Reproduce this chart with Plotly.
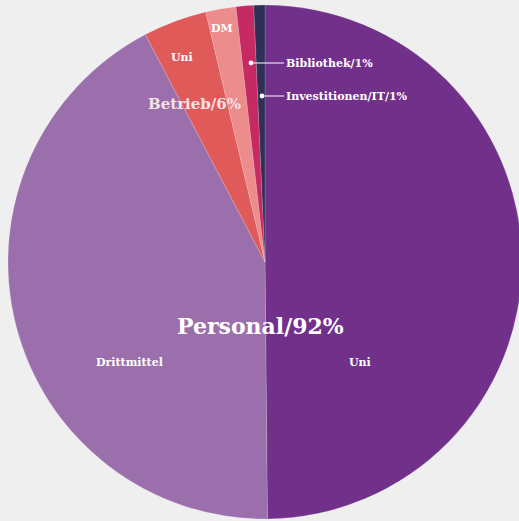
import plotly.graph_objects as go

labels = ["Personal Uni", "Personal Drittmittel", "Betrieb Uni", "Betrieb DM",
          "Bibliothek", "Investitionen/IT"]
values = [49.8, 42.4, 4.0, 1.9, 1.1, 0.7]
colors = ["#71318a", "#9b6fab", "#e05a5a", "#ec8c8c", "#c52a63", "#2f2f58"]

W, H = 526, 521
fig = go.Figure(go.Pie(
    labels=labels, values=values, sort=False, direction="clockwise", rotation=0,
    marker=dict(colors=colors, line=dict(color="rgba(255,255,255,0.25)", width=0.6)),
    textinfo="none", hoverinfo="label+percent", showlegend=False,
    domain=dict(x=[8 / W, 522 / W], y=[1 - 519 / H, 1 - 5 / H]),
))

font = "DejaVu Serif"

def txt(x, y, t, size, color="white"):
    fig.add_annotation(x=x / W, y=1 - y / H, xref="paper", yref="paper", text="<b>%s</b>" % t,
                       showarrow=False, font=dict(family=font, size=size, color=color),
                       xanchor="center", yanchor="middle")

txt(260, 326, "Personal/92%", 22)
txt(129, 362, "Drittmittel", 11)
txt(360, 362, "Uni", 11)
txt(182, 57, "Uni", 11)
txt(222, 28, "DM", 11)
txt(194, 104, "Betrieb/6%", 15, "#f5e4e4")

def lead(xd, yd, xt, t):
    fig.add_annotation(x=xd / W, y=1 - yd / H, xref="paper", yref="paper",
                       ax=xt - xd, ay=0, axref="pixel", ayref="pixel",
                       text="<b>%s</b>" % t, showarrow=True, arrowhead=6, arrowsize=1,
                       arrowwidth=1.2, arrowcolor="white", standoff=0, startstandoff=0,
                       xanchor="left", yanchor="middle",
                       font=dict(family=font, size=11, color="white"))

lead(251, 63, 284, "Bibliothek/1%")
lead(262, 96, 284, "Investitionen/IT/1%")

fig.update_layout(width=W, height=H, margin=dict(l=0, r=0, t=0, b=0),
                  paper_bgcolor="#efefef", plot_bgcolor="#efefef")
fig.write_html("out.html", config={"displayModeBar": False},
               post_script="document.body.style.margin='0px';document.body.style.overflow='hidden';document.body.style.background='#efefef';")
